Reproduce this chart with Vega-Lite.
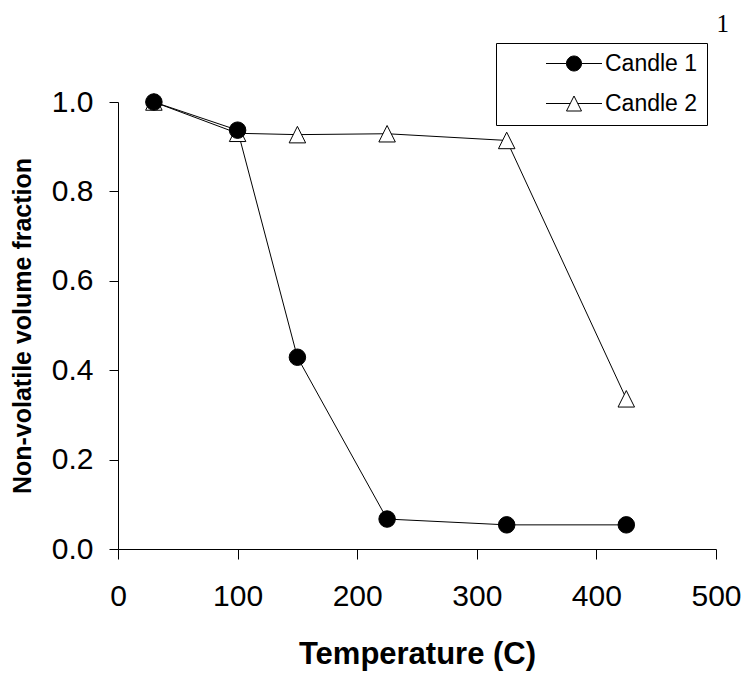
{
  "$schema": "https://vega.github.io/schema/vega-lite/v6.json",
  "autosize": {"type": "none"},
  "padding": {"left": 118, "top": 102, "right": 29, "bottom": 125},
  "width": 598,
  "height": 447,
  "background": "white",
  "title": {"text": "1", "anchor": "end", "frame": "group", "font": "Liberation Serif", "fontSize": 25, "fontWeight": "normal", "color": "black", "baseline": "alphabetic", "offset": -14, "dx": 13},
  "data": {"values": [
    {"series": "Candle 2", "temp": 30, "frac": 1.0},
    {"series": "Candle 2", "temp": 100, "frac": 0.93},
    {"series": "Candle 2", "temp": 150, "frac": 0.927},
    {"series": "Candle 2", "temp": 225, "frac": 0.929},
    {"series": "Candle 2", "temp": 325, "frac": 0.914},
    {"series": "Candle 2", "temp": 425, "frac": 0.336},
    {"series": "Candle 1", "temp": 30, "frac": 1.0},
    {"series": "Candle 1", "temp": 100, "frac": 0.937},
    {"series": "Candle 1", "temp": 150, "frac": 0.429},
    {"series": "Candle 1", "temp": 225, "frac": 0.067},
    {"series": "Candle 1", "temp": 325, "frac": 0.054},
    {"series": "Candle 1", "temp": 425, "frac": 0.054}
  ]},
  "encoding": {
    "x": {"field": "temp", "type": "quantitative", "scale": {"domain": [0, 500], "nice": false, "zero": false},
      "axis": {"title": "Temperature (C)", "values": [0, 100, 200, 300, 400, 500], "grid": false, "tickSize": 10, "labelPadding": 22, "labelFontSize": 30, "labelFont": "Liberation Sans", "labelColor": "black", "labelFlush": false, "labelOverlap": false,
        "titleFont": "Liberation Sans", "titleFontSize": 31, "titleFontWeight": "bold", "titleColor": "black", "titleBaseline": "alphabetic", "titleY": 114,
        "domainColor": "black", "tickColor": "black", "domainWidth": 1, "tickWidth": 1}},
    "y": {"field": "frac", "type": "quantitative", "scale": {"domain": [0, 1], "nice": false},
      "axis": {"title": "Non-volatile volume fraction", "values": [0, 0.2, 0.4, 0.6, 0.8, 1.0], "format": ".1f", "grid": false, "tickSize": 9, "labelPadding": 16, "labelFontSize": 30, "labelFont": "Liberation Sans", "labelColor": "black", "labelFlush": false, "labelOverlap": false,
        "titleFont": "Liberation Sans", "titleFontSize": 25, "titleFontWeight": "bold", "titleColor": "black", "titleBaseline": "alphabetic", "titleX": -88, "titleY": 223.5, "titleAngle": -90,
        "domainColor": "black", "tickColor": "black", "domainWidth": 1, "tickWidth": 1}}
  },
  "layer": [
    {
      "mark": {"type": "point", "filled": false, "size": 0, "strokeWidth": 1},
      "encoding": {
        "color": {"field": "series", "type": "nominal", "scale": {"domain": ["Candle 1", "Candle 2"], "range": ["black", "black"]},
          "legend": {"title": null, "orient": "none", "legendX": 378, "legendY": -59, "padding": 9, "rowPadding": 16, "symbolSize": 225, "symbolOffset": 57.5, "labelOffset": 19.5,
            "labelFont": "Liberation Sans", "labelFontSize": 23, "labelColor": "black", "labelExpr": "datum.label + '\u00a0\u00a0\u00a0\u00a0\u00a0\u00a0\u00a0'",
            "strokeColor": "black", "fillColor": "white", "symbolStrokeWidth": 1, "symbolOpacity": 1}},
        "shape": {"field": "series", "type": "nominal", "scale": {"domain": ["Candle 1", "Candle 2"], "range": ["M-3.73,0L-1,0M1,0L3.73,0M-1,0A1,1 0 1,1 1,0A1,1 0 1,1 -1,0Z", "M-3.73,0L-0.5,0M0.5,0L3.73,0M0,-1L1,1L-1,1Z"]},
          "legend": {"title": null, "orient": "none", "legendX": 378, "legendY": -59, "padding": 9, "rowPadding": 16, "symbolSize": 225, "symbolOffset": 57.5, "labelOffset": 19.5,
            "labelFont": "Liberation Sans", "labelFontSize": 23, "labelColor": "black", "labelExpr": "datum.label + '\u00a0\u00a0\u00a0\u00a0\u00a0\u00a0\u00a0'",
            "strokeColor": "black", "fillColor": "white", "symbolStrokeWidth": 1, "symbolOpacity": 1}},
        "fill": {"field": "series", "type": "nominal", "scale": {"domain": ["Candle 1", "Candle 2"], "range": ["black", "white"]},
          "legend": {"title": null, "orient": "none", "legendX": 378, "legendY": -59, "padding": 9, "rowPadding": 16, "symbolSize": 225, "symbolOffset": 57.5, "labelOffset": 19.5,
            "labelFont": "Liberation Sans", "labelFontSize": 23, "labelColor": "black", "labelExpr": "datum.label + '\u00a0\u00a0\u00a0\u00a0\u00a0\u00a0\u00a0'",
            "strokeColor": "black", "fillColor": "white", "symbolStrokeWidth": 1, "symbolOpacity": 1}}
      }
    },
    {
      "mark": {"type": "line", "color": "black", "strokeWidth": 1},
      "encoding": {"detail": {"field": "series"}}
    },
    {
      "transform": [{"filter": "datum.series === 'Candle 2'"}],
      "mark": {"type": "point", "filled": false, "shape": "M0,-1L1,1L-1,1Z", "fill": "white", "stroke": "black", "size": 272, "strokeWidth": 1, "opacity": 1, "fillOpacity": 1, "strokeOpacity": 1}
    },
    {
      "transform": [{"filter": "datum.series === 'Candle 1'"}],
      "mark": {"type": "point", "filled": false, "shape": "circle", "fill": "black", "stroke": "black", "size": 272, "strokeWidth": 1, "opacity": 1, "fillOpacity": 1, "strokeOpacity": 1}
    }
  ],
  "config": {"view": {"stroke": null}}
}
